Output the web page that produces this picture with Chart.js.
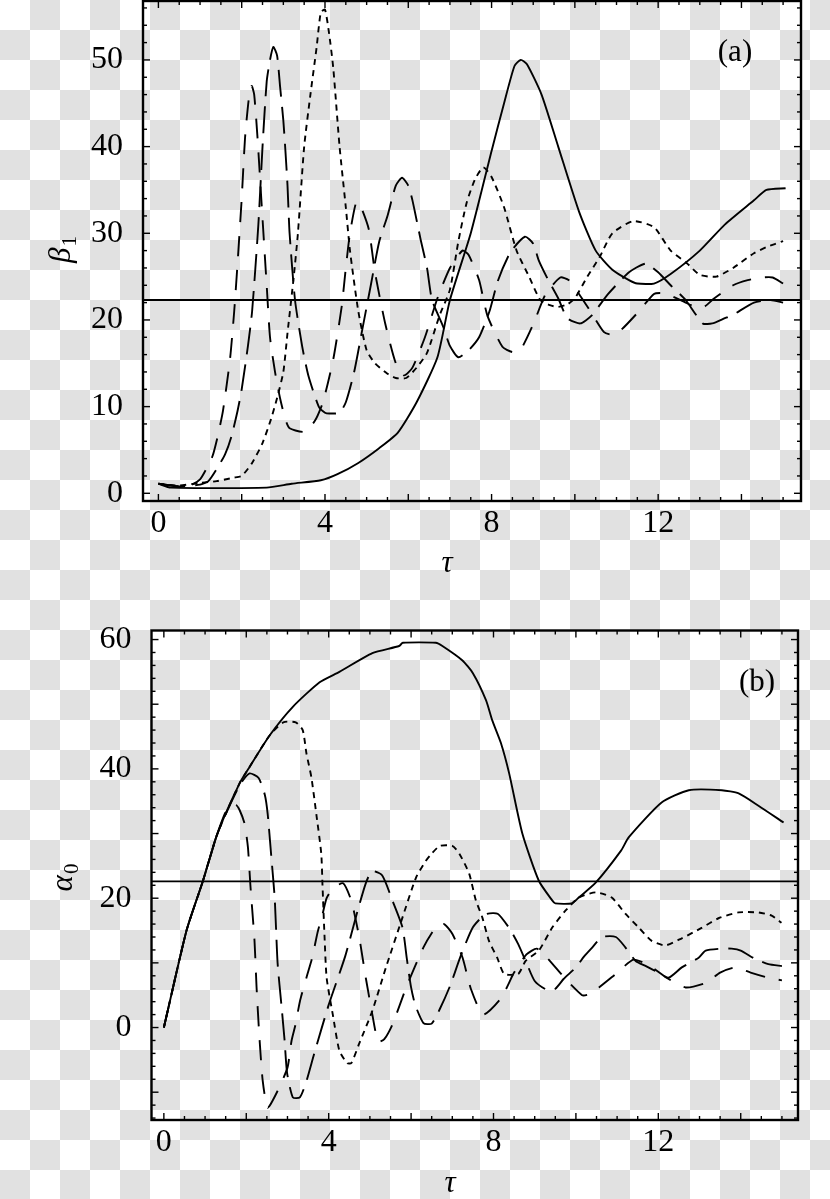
<!DOCTYPE html>
<html>
<head>
<meta charset="utf-8">
<script src="https://cdn.jsdelivr.net/npm/chart.js@4.4.1/dist/chart.umd.min.js"></script>
<style>
  html, body { margin: 0; padding: 0; }
  body {
    width: 830px; height: 1199px; overflow: hidden; position: relative;
    background-color: #ffffff;
    background-image: conic-gradient(#e1e1e1 25%, transparent 0 50%, #e1e1e1 0 75%, transparent 0);
    background-size: 60px 60px;
  }
  .panel { position: absolute; left: 0; width: 830px; }
  #panelA { top: 0; height: 600px; }
  #panelB { top: 600px; height: 599px; }
</style>
</head>
<body>
<div class="panel" id="panelA"><canvas id="chartA"></canvas></div>
<div class="panel" id="panelB"><canvas id="chartB"></canvas></div>
<script>
// ---- panel (a): beta_1 vs tau ----
const aSolidT = [0, 0.3, 2.6, 3.2, 3.9, 4.3, 4.8, 5.3, 5.75, 6.2, 6.7, 7.0, 7.5, 8.0, 8.3, 8.55, 8.7, 8.85, 9.2, 9.6, 10.1, 10.5, 10.9, 11.3, 11.5, 11.9, 12.3, 13.0, 13.6, 14.3, 14.6, 15.06];
const aSolidV = [1.1, 0.65, 0.65, 1.1, 1.5, 2.2, 3.5, 5.2, 7, 10.5, 15.7, 22.3, 30, 39.5, 45, 49.3, 50, 49.5, 46, 40, 32.5, 28, 25.8, 24.6, 24.2, 24.2, 25.3, 28, 31, 33.8, 35, 35.2];

// fine dashes
const aSlowT = [0, 0.5, 1.0, 1.4, 1.8, 2.0, 2.25, 2.5, 2.7, 2.85, 3.0, 3.1, 3.25, 3.35, 3.5, 3.65, 3.8, 3.9, 4.0, 4.1, 4.2, 4.35, 4.5, 4.6, 4.8, 5.0, 5.2, 5.5, 5.7, 5.95, 6.2, 6.45, 6.75, 7.0, 7.2, 7.4, 7.6, 7.8, 8.0, 8.3, 8.6, 8.9, 9.17, 9.4, 9.6, 9.82, 10.0, 10.3, 10.6, 10.9, 11.4, 11.9, 12.3, 12.7, 13.0, 13.4, 13.8, 14.3, 14.6, 15.0];
const aSlowV = [1.1, 0.9, 1.2, 1.4, 1.8, 2.0, 3.5, 5.8, 8.5, 11, 14, 18.5, 25, 30, 40, 46, 51.5, 55.5, 55.8, 53, 49, 40, 33, 28, 21, 16.5, 15, 13.8, 13.3, 13.3, 14.5, 16.2, 20.5, 23.5, 29, 33.5, 36.2, 37.6, 36.5, 33, 28, 25, 22.3, 21.7, 21.5, 21.8, 22.5, 25, 27.3, 30, 31.4, 30.7, 28, 26.5, 25.2, 25, 26, 27.7, 28.4, 29.1];

// long dashes
const aMidT = [0, 0.5, 1.0, 1.2, 1.4, 1.6, 1.75, 1.9, 2.0, 2.15, 2.25, 2.4, 2.5, 2.6, 2.68, 2.76, 2.85, 2.92, 3.0, 3.05, 3.1, 3.15, 3.28, 3.45, 3.6, 3.85, 4.0, 4.1, 4.35, 4.5, 4.7, 4.9, 5.1, 5.3, 5.5, 5.7, 5.85, 6.0, 6.1, 6.3, 6.45, 6.57, 6.84, 7.0, 7.2, 7.45, 7.7, 7.95, 8.15, 8.45, 8.8, 9.0, 9.13, 9.34, 9.6, 9.82, 10.13, 10.4, 10.8, 11.3, 11.7, 12.0, 12.3, 12.66, 13.07, 13.3, 13.6, 13.8, 14.3, 14.7, 15.0];
const aMidV = [1.1, 0.8, 1.0, 1.4, 2.8, 4.5, 6.5, 9.5, 12, 17, 21, 31, 40, 47.5, 50, 51.5, 50.5, 47, 43, 39.5, 35.5, 30, 22.3, 17, 13.6, 10, 9.3, 9.2, 9.3, 10.5, 14, 19, 24, 29, 32, 35.5, 36.4, 35.5, 33.8, 29.2, 26, 22.3, 19.2, 17, 15.7, 16.5, 18, 21, 24.5, 27.8, 29.6, 28.8, 26.9, 24.8, 22.5, 20.2, 19.6, 20.5, 23, 25.5, 26.5, 25.5, 24, 22.3, 19.6, 19.6, 20.2, 20.6, 22, 22.3, 22];

// medium dashes
const aFastT = [0, 0.5, 0.8, 1.0, 1.15, 1.3, 1.42, 1.55, 1.72, 1.82, 1.9, 2.0, 2.08, 2.17, 2.24, 2.3, 2.38, 2.47, 2.6, 2.68, 2.8, 2.92, 3.05, 3.15, 3.5, 3.75, 3.95, 4.2, 4.4, 4.5, 4.6, 4.75, 4.85, 5.05, 5.2, 5.45, 5.7, 5.9, 6.1, 6.4, 6.7, 7.0, 7.3, 7.45, 7.7, 7.9, 8.26, 8.5, 8.7, 9.0, 9.3, 9.65, 9.85, 10.1, 10.4, 10.7, 10.9, 11.1, 11.5, 11.9, 12.1, 12.3, 12.66, 12.9, 13.1, 13.35, 13.8, 14.15, 14.5, 14.75, 15.0];
const aFastV = [1.1, 0.8, 1.0, 1.6, 2.8, 4.3, 6.5, 9.5, 15.5, 21, 26.5, 34, 41, 45.5, 47, 46, 41, 34, 24, 18, 14, 11, 8.5, 7.5, 7.1, 8.3, 10.5, 15.5, 21.5, 26, 30, 33.6, 33.2, 30.5, 25.5, 19.5, 15, 13.6, 14.5, 18, 22.5, 26, 28, 27.5, 24.6, 20.5, 16.9, 16.3, 16.6, 19.5, 23, 24.9, 24.6, 23, 20.8, 18.6, 18.3, 18.8, 20.8, 23, 23.1, 22.8, 22, 21.5, 21.5, 22.5, 24, 24.6, 24.9, 24.9, 24.2];

const aRefLevel = 22.3;

// ---- panel (b): alpha_0 vs tau ----
const bSolidT = [0, 0.55, 0.95, 1.3, 1.84, 2.08, 2.57, 3.13, 3.78, 4.26, 5.06, 5.71, 5.8, 6.6, 6.76, 7.24, 7.5, 7.82, 7.97, 8.18, 8.38, 8.7, 9.1, 9.42, 9.5, 9.9, 10.07, 10.48, 11.1, 11.28, 12.08, 12.74, 13.54, 13.95, 14.43, 15.04];
const bSolidV = [0, 15, 22.7, 30, 37.8, 40.3, 45.2, 49.6, 53.4, 55, 57.9, 59, 59.5, 59.5, 59, 56.8, 54.8, 50.6, 47.5, 44, 39.3, 30, 22.7, 19.7, 19.2, 19.2, 20.1, 22.4, 27.4, 29.4, 34.8, 36.7, 36.7, 36.2, 34.3, 31.7];

const bSlowT = [0, 0.55, 0.95, 1.3, 1.84, 2.08, 2.57, 2.9, 3.2, 3.37, 3.46, 3.58, 3.7, 3.82, 3.85, 3.9, 3.95, 4.1, 4.26, 4.45, 4.55, 4.74, 5.06, 5.39, 5.79, 6.12, 6.36, 6.5, 6.7, 7.0, 7.17, 7.41, 7.57, 7.73, 7.89, 8.09, 8.26, 8.6, 8.78, 9.1, 9.43, 9.75, 10.07, 10.48, 10.87, 11.2, 11.52, 11.84, 12.17, 12.57, 13.05, 13.46, 13.95, 14.43, 14.75, 14.99];
const bSlowV = [0, 15, 22.7, 30, 37.8, 40.3, 45.2, 47.2, 47.2, 46, 42.4, 38.7, 33, 26.9, 22, 14, 7.7, 2, -3.6, -5.5, -5.5, -2.5, 2.6, 9.3, 17, 23.2, 25.8, 26.9, 28.1, 28.1, 26.9, 23.8, 19.7, 17, 13.4, 10.8, 8.3, 8.3, 10.3, 11.9, 15.5, 18.1, 20.1, 20.9, 20.1, 17.6, 15.5, 13.4, 12.7, 13.8, 15.4, 16.9, 17.8, 17.8, 17.3, 16.2];

const bMidT = [0, 0.55, 0.95, 1.3, 1.84, 2.08, 2.3, 2.45, 2.52, 2.6, 2.69, 2.76, 2.86, 2.93, 2.99, 3.13, 3.3, 3.45, 3.65, 4.0, 4.4, 4.7, 4.9, 5.05, 5.3, 5.55, 5.79, 5.9, 6.0, 6.1, 6.3, 6.5, 6.7, 6.95, 7.2, 7.5, 7.8, 8.1, 8.4, 8.6, 8.8, 9.0, 9.3, 9.5, 9.7, 10.0, 10.2, 10.4, 10.63, 10.97, 11.2, 11.45, 11.7, 12.0, 12.25, 12.57, 12.98, 13.15, 13.54, 13.78, 14.0, 14.35, 14.67, 15.0];
const bMidV = [0, 15, 22.7, 30, 37.5, 39.3, 38.6, 36, 33, 27, 20, 10, 3, -2, -7, -10.8, -10.8, -8.5, -4, 3.5, 11, 18, 22.3, 24.2, 23.5, 19.6, 15.5, 10.5, 6.2, 3.5, 0.7, 0.6, 2.9, 6.5, 11, 15.5, 17.5, 17.6, 15.2, 12.9, 10, 7.2, 5.8, 6, 7.5, 9.3, 11, 12.4, 14, 14, 12.4, 10.3, 9.5, 8.5, 7.7, 9.3, 10.8, 11.9, 12.2, 12.2, 11.9, 10.6, 9.8, 9.5];

const bFastT = [0, 0.55, 0.95, 1.3, 1.55, 1.75, 1.84, 1.96, 2.04, 2.1, 2.2, 2.25, 2.32, 2.4, 2.52, 2.76, 3.0, 3.1, 3.2, 3.3, 3.46, 3.6, 3.73, 3.85, 3.95, 4.1, 4.35, 4.55, 4.74, 4.9, 5.06, 5.2, 5.35, 5.55, 5.9, 6.3, 6.6, 6.8, 7.0, 7.25, 7.45, 7.75, 8.18, 8.5, 8.8, 9.05, 9.3, 9.75, 10.15, 10.3, 10.56, 10.97, 11.4, 11.8, 12.25, 12.66, 13.15, 13.5, 13.87, 14.24, 14.67, 15.0];
const bFastV = [0, 15, 22.7, 30, 34, 34.4, 33.6, 31.5, 27.9, 22, 13.4, 6.2, -1.6, -8.3, -12.4, -9.8, -6.2, -2, 0.6, 4, 7.7, 10.8, 14.7, 17.5, 20, 21.5, 22.3, 19.6, 14, 7.7, 2, -2.2, -1.8, 0.5, 6.5, 12.4, 15.5, 16, 14.5, 10.8, 6, 2, 4.5, 8.5, 11.3, 12.2, 10.8, 7.5, 5, 5.1, 6.2, 8.3, 10.5, 9.5, 7.5, 6.2, 6.9, 8.5, 9.3, 8.5, 7.7, 7.3];

const bRefLevel = 22.6;

// ---- axis settings ----
const aRange = { xMin: -0.37, xMax: 15.43, yMin: -0.89, yMax: 56.8 };
const bRange = { xMin: -0.30, xMax: 15.39, yMin: -14.3, yMax: 61.4 };
const xTickLabels = [0, 4, 8, 12];
const aYTickLabels = [0, 10, 20, 30, 40, 50];
const bYTickLabels = [0, 20, 40, 60];

const FONT = "'Liberation Serif', 'DejaVu Serif', serif";
const DASH_SLOW = [6, 5];
const DASH_FAST = [20, 14];
const DASH_MID = [27, 10];

function pts(xs, ys) {
  return xs.map((x, i) => ({ x: x, y: ys[i] }));
}

function curve(xs, ys, dash) {
  return {
    data: pts(xs, ys),
    borderColor: '#000',
    borderWidth: 1.9,
    borderDash: dash,
    pointRadius: 0,
    tension: 0.2,
    fill: false
  };
}

// frame, inward ticks, titles and the panel label
const decor = {
  id: 'decor',
  afterDraw(chart, args, o) {
    const { ctx, chartArea: { left, right, top, bottom }, scales: { x, y } } = chart;
    ctx.save();
    ctx.strokeStyle = '#000';
    ctx.lineWidth = 1.4;
    const tick = (x1, y1, x2, y2) => { ctx.beginPath(); ctx.moveTo(x1, y1); ctx.lineTo(x2, y2); ctx.stroke(); };

    const i0 = Math.ceil(x.min / o.xMinor), i1 = Math.floor(x.max / o.xMinor);
    for (let i = i0; i <= i1; i++) {
      const v = i * o.xMinor;
      const px = x.getPixelForValue(v);
      const len = (Math.abs(v % o.xMajor) < 1e-6) ? 7 : 4;
      tick(px, bottom, px, bottom - len);
      tick(px, top, px, top + len);
    }
    const j0 = Math.ceil(y.min / o.yMinor), j1 = Math.floor(y.max / o.yMinor);
    for (let j = j0; j <= j1; j++) {
      const v = j * o.yMinor;
      const py = y.getPixelForValue(v);
      const len = (Math.abs(v % o.yMajor) < 1e-6) ? 7 : 4;
      tick(left, py, left + len, py);
      tick(right, py, right - len, py);
    }

    ctx.lineWidth = 2.4;
    ctx.strokeRect(left, top, right - left, bottom - top);

    ctx.fillStyle = '#000';
    ctx.textAlign = 'center';
    ctx.textBaseline = 'alphabetic';
    // panel label
    ctx.font = '31px ' + FONT;
    ctx.fillText(o.label, right - o.labelDx, top + o.labelDy);
    // x title
    ctx.font = 'italic 31px ' + FONT;
    ctx.fillText(o.xTitle, o.xTitleX, o.xTitleY);
    // y title, rotated, with subscript
    ctx.translate(o.yTitleX, o.yTitleY);
    ctx.rotate(-Math.PI / 2);
    ctx.textAlign = 'left';
    ctx.font = 'italic 31px ' + FONT;
    const w1 = ctx.measureText(o.yTitle).width;
    ctx.font = '21px ' + FONT;
    const w2 = ctx.measureText(o.yTitleSub).width;
    const x0 = -(w1 + w2) / 2;
    ctx.font = 'italic 31px ' + FONT;
    ctx.fillText(o.yTitle, x0, 0);
    ctx.font = '21px ' + FONT;
    ctx.fillText(o.yTitleSub, x0 + w1 + 1, 6);
    ctx.restore();
  }
};

function makeChart(id, datasets, range, yLabels, pad, yWidth, xHeight, decorOpts) {
  return new Chart(document.getElementById(id), {
    type: 'line',
    data: { datasets: datasets },
    plugins: [decor],
    options: {
      responsive: true,
      maintainAspectRatio: false,
      animation: false,
      events: [],
      layout: { padding: pad },
      plugins: { legend: { display: false }, tooltip: { enabled: false }, decor: decorOpts },
      scales: {
        x: {
          type: 'linear', min: range.xMin, max: range.xMax,
          grid: { display: false }, border: { display: false },
          afterBuildTicks: s => { s.ticks = xTickLabels.map(v => ({ value: v })); },
          afterFit: s => { s.height = xHeight; s.paddingLeft = 0; s.paddingRight = 0; },
          ticks: { color: '#000', font: { family: FONT, size: 32 }, padding: -5, maxRotation: 0, autoSkip: false }
        },
        y: {
          type: 'linear', min: range.yMin, max: range.yMax,
          grid: { display: false }, border: { display: false },
          afterBuildTicks: s => { s.ticks = yLabels.map(v => ({ value: v })); },
          afterFit: s => { s.width = yWidth; s.paddingTop = 0; s.paddingBottom = 0; },
          ticks: { color: '#000', font: { family: FONT, size: 32 }, padding: 12, autoSkip: false }
        }
      }
    }
  });
}

makeChart('chartA', [
  curve([aRange.xMin, aRange.xMax], [aRefLevel, aRefLevel], []),
  curve(aSolidT, aSolidV, []),
  curve(aSlowT, aSlowV, DASH_SLOW),
  curve(aMidT, aMidV, DASH_MID),
  curve(aFastT, aFastV, DASH_FAST)
], aRange, aYTickLabels, { left: 0, top: 1, right: 29, bottom: 0 }, 143, 99, {
  xMinor: 0.5, xMajor: 2, yMinor: 2, yMajor: 10,
  label: '(a)', labelDx: 66, labelDy: 60,
  xTitle: 'τ', xTitleX: 447, xTitleY: 572,
  yTitle: 'β', yTitleSub: '1', yTitleX: 70, yTitleY: 250
});

makeChart('chartB', [
  curve([bRange.xMin, bRange.xMax], [bRefLevel, bRefLevel], []),
  curve(bSolidT, bSolidV, []),
  curve(bSlowT, bSlowV, DASH_SLOW),
  curve(bMidT, bMidV, DASH_MID),
  curve(bFastT, bFastV, DASH_FAST)
], bRange, bYTickLabels, { left: 0, top: 30.5, right: 32, bottom: 0 }, 151.5, 79, {
  xMinor: 0.5, xMajor: 2, yMinor: 2, yMajor: 10,
  label: '(b)', labelDx: 41, labelDy: 60,
  xTitle: 'τ', xTitleX: 450, xTitleY: 592,
  yTitle: 'α', yTitleSub: '0', yTitleX: 72, yTitleY: 278
});
</script>
</body>
</html>
